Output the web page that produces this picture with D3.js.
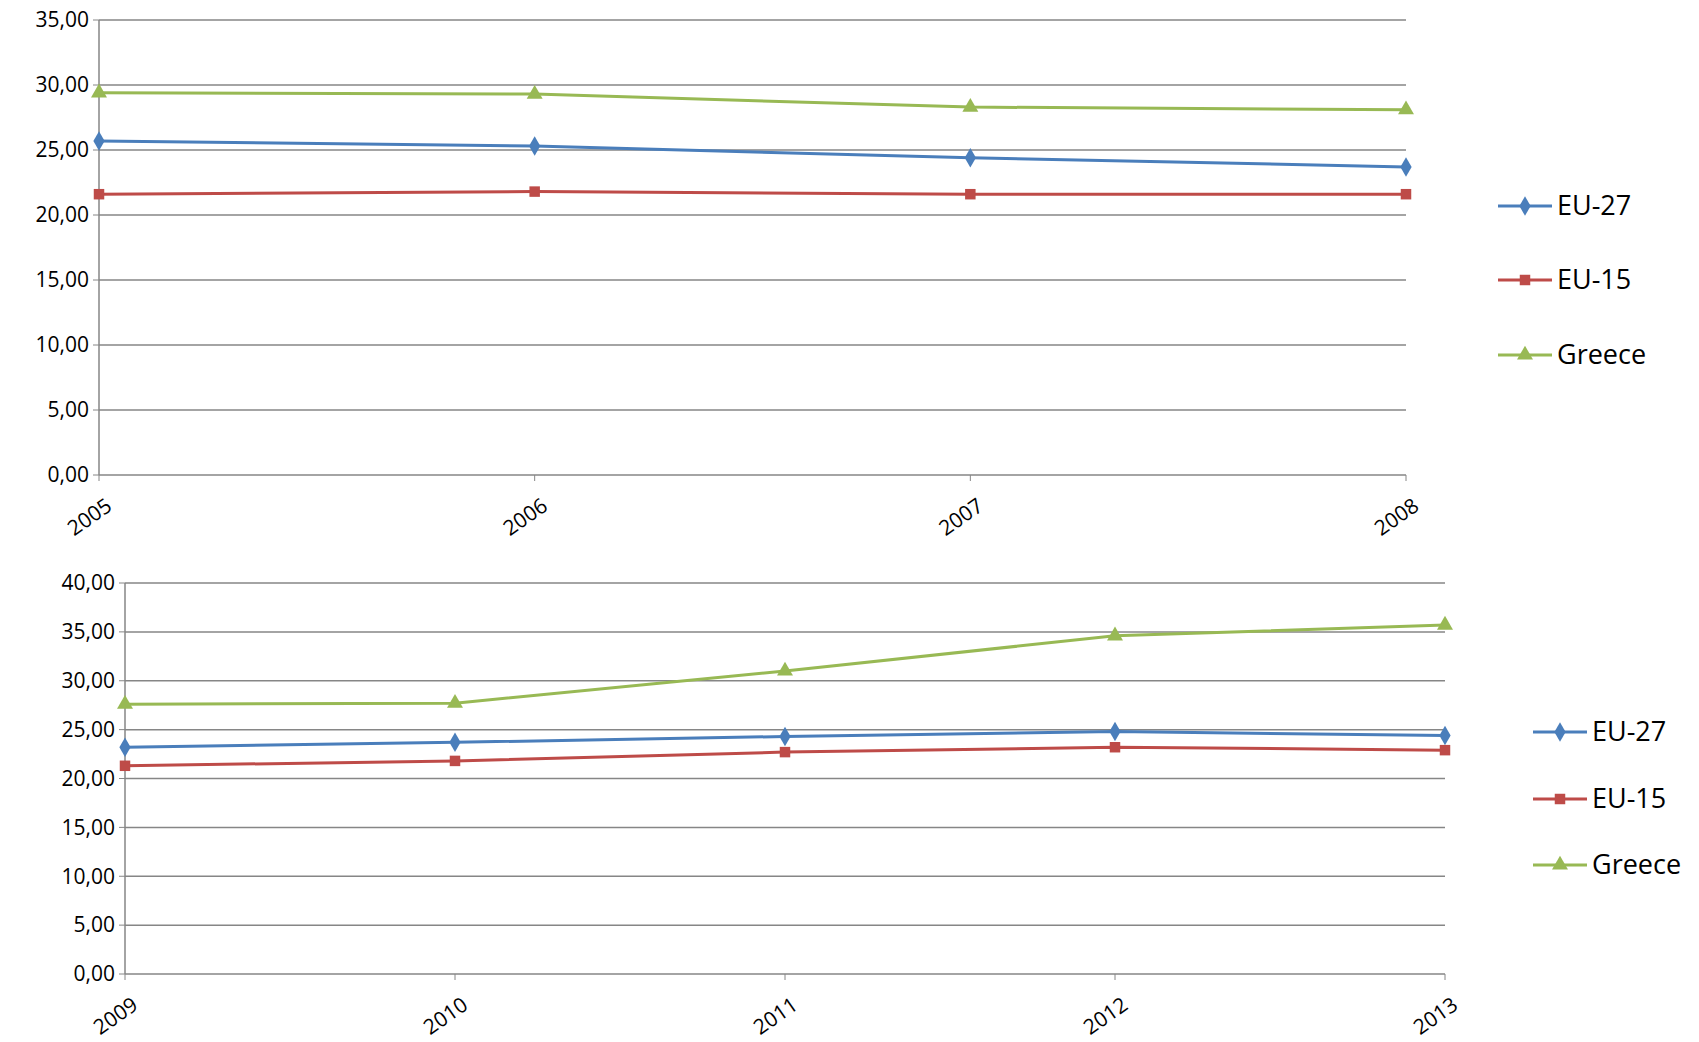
<!DOCTYPE html>
<html><head><meta charset="utf-8">
<script src="https://cdn.jsdelivr.net/npm/d3@7"></script>
<style>body{margin:0;background:#fff}svg{font-family:"Open Sans","Liberation Sans",sans-serif}</style>
</head><body><svg width="1699" height="1042"></svg>
<script>
const years1 = ['2005','2006','2007','2008'];
const eu27a = [25.7, 25.3, 24.4, 23.7];
const eu15a = [21.6, 21.8, 21.6, 21.6];
const greeceA = [29.4, 29.3, 28.3, 28.1];
const ticks1 = [0,5,10,15,20,25,30,35];

const years2 = ['2009','2010','2011','2012','2013'];
const eu27b = [23.2, 23.7, 24.3, 24.8, 24.4];
const eu15b = [21.3, 21.8, 22.7, 23.2, 22.9];
const greeceB = [27.6, 27.7, 31.0, 34.6, 35.7];
const ticks2 = [0,5,10,15,20,25,30,35,40];

const names = ['EU-27','EU-15','Greece'];
const colors = ['#4a7ebb','#be4b48','#98b954'];
const shapes = [d3.symbolDiamond, d3.symbolSquare, d3.symbolTriangle];

const svg = d3.select('svg');

function chart(o) {
  const x = d3.scalePoint().domain(o.years).range([o.x0, o.x1]);
  const y = d3.scaleLinear().domain([0, o.max]).range([o.y0, o.y1]);
  const g = svg.append('g');
  o.ticks.forEach(t => {
    if (t > 0) g.append('line').attr('x1', o.x0).attr('x2', o.x1).attr('y1', y(t)).attr('y2', y(t)).attr('stroke', '#868686').attr('stroke-width', 1.5);
    g.append('line').attr('x1', o.x0 - 6).attr('x2', o.x0).attr('y1', y(t)).attr('y2', y(t)).attr('stroke', '#868686');
    g.append('text').attr('x', o.x0 - 10).attr('y', y(t)).attr('dy', '0.35em').attr('text-anchor', 'end')
      .attr('font-size', 21).text(t.toFixed(2).replace('.', ','));
  });
  g.append('line').attr('x1', o.x0).attr('x2', o.x0).attr('y1', o.y0).attr('y2', o.y1).attr('stroke', '#868686').attr('stroke-width', 1.5);
  g.append('line').attr('x1', o.x0).attr('x2', o.x1).attr('y1', o.y0).attr('y2', o.y0).attr('stroke', '#868686').attr('stroke-width', 1.5);
  o.years.forEach(yr => {
    g.append('line').attr('x1', x(yr)).attr('x2', x(yr)).attr('y1', o.y0).attr('y2', o.y0 + 6).attr('stroke', '#868686');
    g.append('text').attr('transform', `translate(${x(yr) + 6},${o.y0 + 22}) rotate(-35)`)
      .attr('text-anchor', 'end').attr('dy', '0.7em').attr('font-size', 21).text(yr);
  });
  const line = d3.line().x((d, i) => x(o.years[i])).y(d => y(d));
  o.series.forEach((s, k) => {
    g.append('path').attr('d', line(s)).attr('fill', 'none').attr('stroke', colors[k]).attr('stroke-width', 3);
    s.forEach((v, i) => g.append('path').attr('d', d3.symbol(shapes[k], 110)())
      .attr('transform', `translate(${x(o.years[i])},${y(v)})`).attr('fill', colors[k]));
  });
  names.forEach((n, k) => {
    const ly = o.ly[k];
    g.append('line').attr('x1', o.lx).attr('x2', o.lx + 54).attr('y1', ly).attr('y2', ly).attr('stroke', colors[k]).attr('stroke-width', 3);
    g.append('path').attr('d', d3.symbol(shapes[k], 110)()).attr('transform', `translate(${o.lx + 27},${ly})`).attr('fill', colors[k]);
    g.append('text').attr('x', o.lx + 59).attr('y', ly).attr('dy', '0.35em').attr('font-size', 27).text(n);
  });
}

chart({years: years1, series: [eu27a, eu15a, greeceA], ticks: ticks1, max: 35,
  x0: 99, x1: 1406, y0: 475, y1: 20, lx: 1498, ly: [206, 280, 355]});
chart({years: years2, series: [eu27b, eu15b, greeceB], ticks: ticks2, max: 40,
  x0: 125, x1: 1445, y0: 974, y1: 583, lx: 1533, ly: [732, 799, 865]});
</script></body></html>
